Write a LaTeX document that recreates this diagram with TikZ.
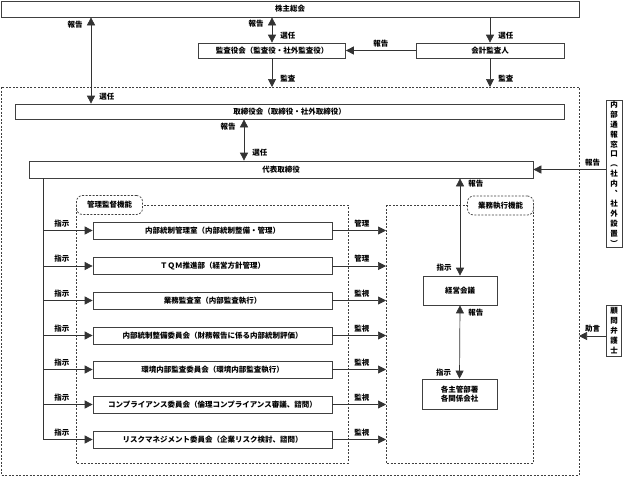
\documentclass[tikz,border=0pt]{standalone}
\usepackage{fontspec}
\setmainfont{Noto Sans CJK JP}
\usetikzlibrary{arrows.meta}

\tikzset{
  box/.style={draw=black!75, line width=0.7pt, inner sep=1pt},
  dashbox/.style={draw=black!75, line width=0.7pt, dash pattern=on 2pt off 1.5pt},
  tagbox/.style={dashbox, rounded corners=6pt, fill=white, minimum width=66pt, minimum height=19pt},
  link/.style={line width=0.7pt, draw=black!80, -{Triangle[length=8pt,width=8pt]}},
  twoway/.style={line width=0.7pt, draw=black!80, {Triangle[length=8pt,width=8pt]}-{Triangle[length=8pt,width=8pt]}},
  lbl/.style={inner sep=1pt},
  vtext/.style={box, align=center, font=\fontsize{7.5}{9.9}\selectfont\bfseries}
}

\begin{document}
\begin{tikzpicture}[x=1pt, y=-1pt, font=\fontsize{7.5}{9}\selectfont\bfseries]
    \useasboundingbox (0,0) rectangle (623,479);
    \coordinate (lx) at (91,0);
    \coordinate (mx) at (244,0);
    \coordinate (otop) at (0,87);
    \coordinate (trunk) at (43,0);
    \coordinate (tend) at (43,439.5);
    \coordinate (gl) at (386,0);
    \coordinate (adv) at (579,336);

    \node[box, minimum width=578pt, minimum height=16pt] (kabu) at (290,9) {株主総会};
    \node[box, minimum width=147pt, minimum height=15pt] (kansa) at (272,50.5) {監査役会（監査役・社外監査役）};
    \node[box, minimum width=148pt, minimum height=15pt] (kaikei) at (490,50.5) {会計監査人};

    \draw[dashbox] (1,87) rectangle (579,475);
    \node[box, minimum width=549pt, minimum height=15pt] (tori) at (289.5,111.5) {取締役会（取締役・社外取締役）};
    \node[box, minimum width=504pt, minimum height=17pt] (dai) at (281,169.5) {代表取締役};

    \node[vtext, minimum width=16pt, minimum height=139pt] (tsuho) at (614,173.5)
        {内\\部\\通\\報\\窓\\口\\︵\\社\\内\\︑\\社\\外\\設\\置\\︶};
    \node[vtext, minimum width=15pt, minimum height=51pt] (komon) at (614,330.5)
        {顧\\問\\弁\\護\\士};

    \draw[dashbox] (76,205) rectangle (348,463);
    \draw[dashbox] (386,205) rectangle (533,463);
    \node[tagbox] (kanri) at (109.5,205) {管理監督機能};
    \node[tagbox] (gyomu) at (500.5,205.5) {業務執行機能};

    \node[box, minimum width=74pt, minimum height=29pt] (keiei) at (460,290.5) {経営会議};
    \node[box, minimum width=75pt, minimum height=30pt, align=center] (kaku) at (459.5,394) {各主管部署\\各関係会社};

    \draw[twoway] (kabu.south -| lx) --
        node[lbl, pos=.08, left=7pt] {報告}
        node[lbl, pos=.92, right=7pt] {選任} (tori.north -| lx);
    \draw[twoway] (kabu.south -| kansa.north) --
        node[lbl, pos=.23, left=7pt] {報告}
        node[lbl, pos=.73, right=7pt] {選任} (kansa.north);
    \draw[link] (kabu.south -| kaikei.north) --
        node[lbl, pos=.73, right=7pt] {選任} (kaikei.north);
    \draw[link] (kaikei.west) -- node[lbl, above=2pt] {報告} (kansa.east);
    \draw[link] (kansa.south) -- node[lbl, pos=.72, right=7pt] {監査} (kansa.south |- otop);
    \draw[link] (kaikei.south) -- node[lbl, pos=.72, right=7pt] {監査} (kaikei.south |- otop);
    \draw[twoway] (tori.south -| mx) --
        node[lbl, pos=.17, left=7pt] {報告}
        node[lbl, pos=.81, right=7pt] {選任} (dai.north -| mx);
    \draw[link] (tsuho.west |- dai.east) -- node[lbl, pos=.18, above=2pt] {報告} (dai.east);
    \draw[link] (komon.west |- adv) -- node[lbl, above=2pt] {助言} (adv);

    \draw[twoway] (dai.south -| keiei.north) --
        node[lbl, pos=.05, right=7pt] {報告}
        node[lbl, pos=.92, left=7pt] {指示} (keiei.north);
    \draw[twoway] (keiei.south) --
        node[lbl, pos=.1, right=7pt] {報告}
        node[lbl, pos=.92, left=7pt] {指示} (kaku.north);

    \draw[line width=0.7pt, draw=black!80] (dai.south -| trunk) -- (tend);
    \foreach \i/\y/\t/\v in {
        1/230.5/{内部統制管理室（内部統制整備・管理）}/管理,
        2/266/{ＴＱＭ推進部（経営方針管理）}/管理,
        3/300.5/{業務監査室（内部監査執行）}/監視,
        4/335.5/{内部統制整備委員会（財務報告に係る内部統制評価）}/監視,
        5/369.5/{環境内部監査委員会（環境内部監査執行）}/監視,
        6/404.5/{コンプライアンス委員会（倫理コンプライアンス審議、諮問）}/監視,
        7/439.5/{リスクマネジメント委員会（企業リスク検討、諮問）}/監視} {
        \node[box, minimum width=239pt, minimum height=17pt] (r\i) at (212.5,\y) {\t};
        \draw[link] (r\i -| trunk) -- node[lbl, pos=.38, above=2pt] {指示} (r\i.west);
        \draw[link] (r\i.east) -- node[lbl, pos=.55, above=2pt] {\v} (r\i -| gl);
    }
\end{tikzpicture}
\end{document}
